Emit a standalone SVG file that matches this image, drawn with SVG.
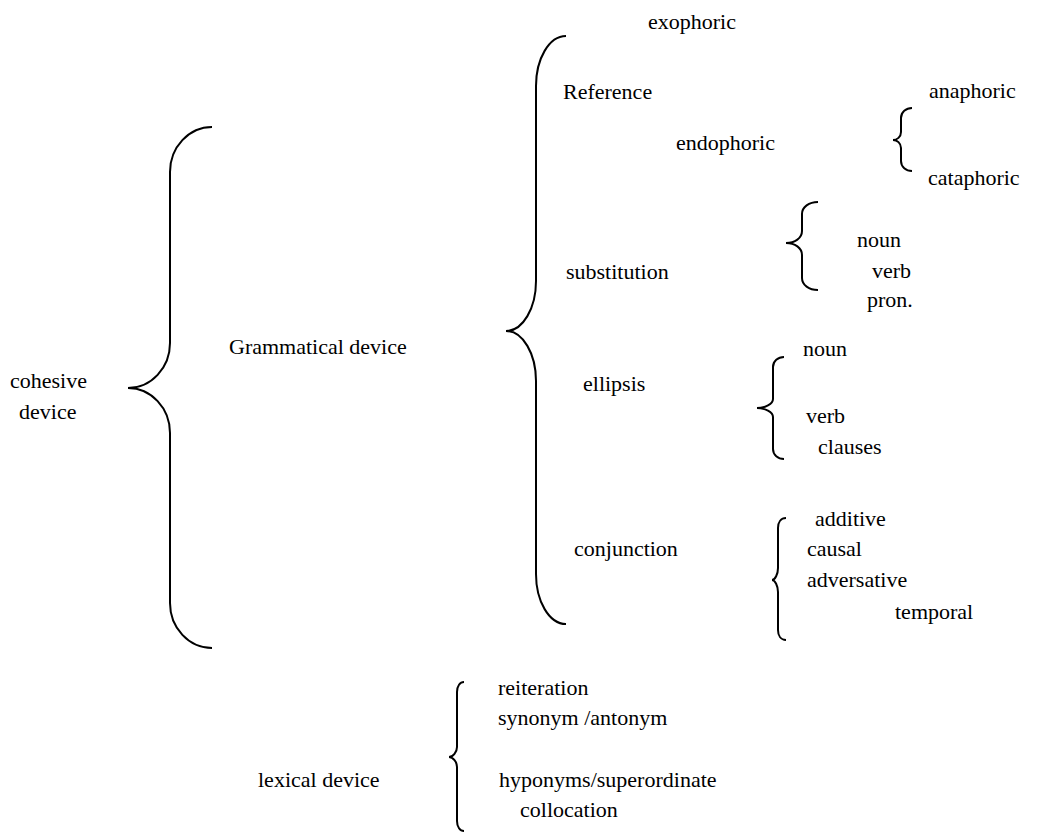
<svg xmlns="http://www.w3.org/2000/svg" width="1048" height="833" viewBox="0 0 1048 833">
<style>
text{font-family:"Liberation Serif","Times New Roman",serif;font-size:22px;fill:#000}
.br{fill:none;stroke:#000;stroke-width:2}
</style>
<rect width="1048" height="833" fill="#fff"/>
<g id="connectors">
<path class="br" d="M212,127 C189,127 170,147 170,172 L170,343 C170,368 151,388 128,388 C151,388 170,408 170,433 L170,603 C170,628 189,648 212,648"/>
<path class="br" d="M566,36 C549,36 536,59 536,86 L536,281 C536,308 523,331 506,331 C523,331 536,354 536,381 L536,574 C536,601 549,624 566,624"/>
<path class="br" d="M912,108 C906,108 901,112 901,118 L901,132 C901,137 897,140 893,140 C897,140 901,143 901,148 L901,161 C901,167 906,171 912,171"/>
<path class="br" d="M818,202 C809,202 802,207 802,214 L802,231 C802,238 795,243 786,243 C795,243 802,248 802,255 L802,278 C802,285 809,290 818,290"/>
<path class="br" d="M784,357 C778,357 773,361 773,367 L773,399 C773,404 765,408 757,408 C765,408 773,412 773,417 L773,449 C773,455 778,459 784,459"/>
<path class="br" d="M786,518 C781,518 778,522 778,528 L778,568 C778,574 775,580 772,580 C775,580 778,586 778,592 L778,630 C778,636 781,640 786,640"/>
<path class="br" d="M464,682 C460,682 457,686 457,692 L457,747 C457,752 453,757 449,757 C453,757 457,762 457,767 L457,821 C457,827 460,831 464,831"/>
</g>
<g id="cohesive"><text x="10" y="388">cohesive</text><text x="19" y="419">device</text></g>
<g id="grammatical"><text x="229" y="354">Grammatical device</text></g>
<g id="exophoric"><text x="648" y="29">exophoric</text></g>
<g id="reference"><text x="563" y="99">Reference</text></g>
<g id="anaphoric"><text x="929" y="98">anaphoric</text></g>
<g id="endophoric"><text x="676" y="150">endophoric</text></g>
<g id="cataphoric"><text x="928" y="185">cataphoric</text></g>
<g id="substitution"><text x="566" y="279">substitution</text></g>
<g id="sub-noun"><text x="857" y="247">noun</text></g>
<g id="sub-verb"><text x="872" y="278">verb</text></g>
<g id="sub-pron"><text x="867" y="307">pron.</text></g>
<g id="ellipsis"><text x="583" y="391">ellipsis</text></g>
<g id="ell-noun"><text x="803" y="356">noun</text></g>
<g id="ell-verb"><text x="806" y="423">verb</text></g>
<g id="ell-clauses"><text x="818" y="454">clauses</text></g>
<g id="conjunction"><text x="574" y="556">conjunction</text></g>
<g id="additive"><text x="815" y="526">additive</text></g>
<g id="causal"><text x="807" y="556">causal</text></g>
<g id="adversative"><text x="807" y="587">adversative</text></g>
<g id="temporal"><text x="895" y="619">temporal</text></g>
<g id="lexical"><text x="258" y="787">lexical device</text></g>
<g id="reiteration"><text x="498" y="695">reiteration</text></g>
<g id="synonym"><text x="498" y="725">synonym /antonym</text></g>
<g id="hyponyms"><text x="499" y="787">hyponyms/superordinate</text></g>
<g id="collocation"><text x="520" y="817">collocation</text></g>
</svg>
